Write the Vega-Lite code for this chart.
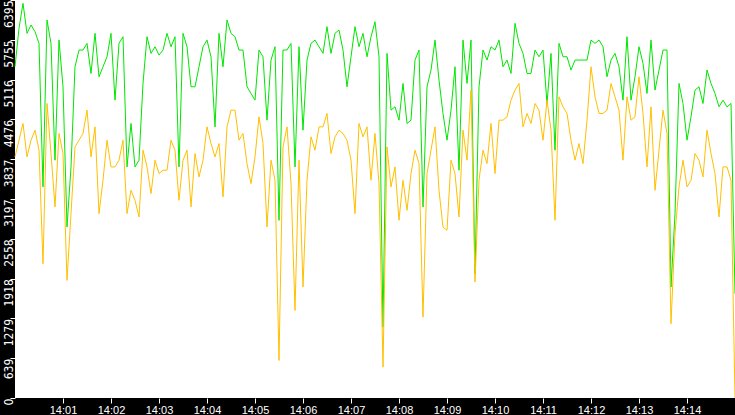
{
  "$schema": "https://vega.github.io/schema/vega-lite/v6.json",
  "width": 720,
  "height": 398,
  "autosize": {"type": "none"},
  "padding": {"left": 15, "top": 0, "right": 0, "bottom": 17},
  "background": "#000000",
  "config": {"view": {"fill": "#ffffff", "stroke": null}},
  "data": {
    "format": {"parse": {"t": "date:'%H:%M:%S'"}},
    "values": [
      {"t":"14:00:00","g":5322,"o":3874},{"t":"14:00:05","g":5939,"o":4142},{"t":"14:00:10","g":6341,"o":4411},{"t":"14:00:15","g":5859,"o":3874},
      {"t":"14:00:20","g":5993,"o":4142},{"t":"14:00:25","g":5886,"o":4303},{"t":"14:00:30","g":5698,"o":3982},{"t":"14:00:35","g":3392,"o":2158},
      {"t":"14:00:40","g":6073,"o":4732},{"t":"14:00:45","g":5698,"o":3928},{"t":"14:00:50","g":3821,"o":3070},{"t":"14:00:55","g":5751,"o":4250},
      {"t":"14:01:00","g":5001,"o":3928},{"t":"14:01:05","g":2748,"o":1890},{"t":"14:01:10","g":3713,"o":2963},{"t":"14:01:15","g":5322,"o":4035},
      {"t":"14:01:20","g":5591,"o":4142},{"t":"14:01:25","g":5591,"o":4250},{"t":"14:01:30","g":5698,"o":4625},{"t":"14:01:35","g":5215,"o":3874},
      {"t":"14:01:40","g":5859,"o":4357},{"t":"14:01:45","g":5162,"o":2963},{"t":"14:01:50","g":5322,"o":3499},{"t":"14:01:55","g":5483,"o":4142},
      {"t":"14:02:00","g":5859,"o":3713},{"t":"14:02:05","g":4786,"o":3713},{"t":"14:02:10","g":5698,"o":3821},{"t":"14:02:15","g":5805,"o":4142},
      {"t":"14:02:20","g":3713,"o":2963},{"t":"14:02:25","g":4411,"o":3338},{"t":"14:02:30","g":3713,"o":3177},{"t":"14:02:35","g":3821,"o":2909},
      {"t":"14:02:40","g":5054,"o":3982},{"t":"14:02:45","g":5805,"o":3713},{"t":"14:02:50","g":5537,"o":3284},{"t":"14:02:55","g":5644,"o":3821},
      {"t":"14:03:00","g":5510,"o":3606},{"t":"14:03:05","g":5591,"o":3660},{"t":"14:03:10","g":5859,"o":3660},{"t":"14:03:15","g":5644,"o":4142},
      {"t":"14:03:20","g":5805,"o":3982},{"t":"14:03:25","g":3713,"o":3177},{"t":"14:03:30","g":5859,"o":3821},{"t":"14:03:35","g":5644,"o":3982},
      {"t":"14:03:40","g":5001,"o":3070},{"t":"14:03:45","g":5001,"o":3928},{"t":"14:03:50","g":5322,"o":3552},{"t":"14:03:55","g":5644,"o":3821},
      {"t":"14:04:00","g":5751,"o":4357},{"t":"14:04:05","g":5483,"o":4089},{"t":"14:04:10","g":4357,"o":3874},{"t":"14:04:15","g":5859,"o":4089},
      {"t":"14:04:20","g":5322,"o":3231},{"t":"14:04:25","g":6073,"o":4357},{"t":"14:04:30","g":5859,"o":4625},{"t":"14:04:35","g":5805,"o":4625},
      {"t":"14:04:40","g":5591,"o":4142},{"t":"14:04:45","g":5591,"o":4250},{"t":"14:04:50","g":5001,"o":3767},{"t":"14:04:55","g":4893,"o":3445},
      {"t":"14:05:00","g":4786,"o":3874},{"t":"14:05:05","g":5591,"o":4518},{"t":"14:05:10","g":5483,"o":4089},{"t":"14:05:15","g":4464,"o":2748},
      {"t":"14:05:20","g":5430,"o":3821},{"t":"14:05:25","g":5644,"o":3499},{"t":"14:05:30","g":2855,"o":603},{"t":"14:05:35","g":5591,"o":4035},
      {"t":"14:05:40","g":5591,"o":4357},{"t":"14:05:45","g":5698,"o":3445},{"t":"14:05:50","g":3713,"o":1407},{"t":"14:05:55","g":5644,"o":3821},
      {"t":"14:06:00","g":4303,"o":1783},{"t":"14:06:05","g":5430,"o":3499},{"t":"14:06:10","g":5698,"o":4196},{"t":"14:06:15","g":5751,"o":3982},
      {"t":"14:06:20","g":5644,"o":4357},{"t":"14:06:25","g":5537,"o":4357},{"t":"14:06:30","g":5966,"o":4572},{"t":"14:06:35","g":5537,"o":3928},
      {"t":"14:06:40","g":5859,"o":4196},{"t":"14:06:45","g":5912,"o":4303},{"t":"14:06:50","g":5591,"o":4250},{"t":"14:06:55","g":5001,"o":4142},
      {"t":"14:07:00","g":5483,"o":3821},{"t":"14:07:05","g":5966,"o":2963},{"t":"14:07:10","g":5644,"o":4411},{"t":"14:07:15","g":5859,"o":4196},
      {"t":"14:07:20","g":5483,"o":4357},{"t":"14:07:25","g":5805,"o":3499},{"t":"14:07:30","g":6046,"o":4250},{"t":"14:07:35","g":5483,"o":3445},
      {"t":"14:07:40","g":1139,"o":496},{"t":"14:07:45","g":5537,"o":4035},{"t":"14:07:50","g":4625,"o":3392},{"t":"14:07:55","g":4679,"o":3713},
      {"t":"14:08:00","g":4464,"o":2855},{"t":"14:08:05","g":5054,"o":3499},{"t":"14:08:10","g":4411,"o":3016},{"t":"14:08:15","g":4464,"o":3606},
      {"t":"14:08:20","g":5430,"o":3982},{"t":"14:08:25","g":5591,"o":3767},{"t":"14:08:30","g":3070,"o":1300},{"t":"14:08:35","g":5001,"o":3606},
      {"t":"14:08:40","g":5269,"o":3982},{"t":"14:08:45","g":5751,"o":4357},{"t":"14:08:50","g":5108,"o":3338},{"t":"14:08:55","g":4572,"o":2748},
      {"t":"14:09:00","g":4142,"o":2695},{"t":"14:09:05","g":4625,"o":3821},{"t":"14:09:10","g":5322,"o":3606},{"t":"14:09:15","g":3660,"o":2909},
      {"t":"14:09:20","g":5751,"o":4303},{"t":"14:09:25","g":5054,"o":3821},{"t":"14:09:30","g":5751,"o":4947},{"t":"14:09:35","g":1997,"o":1863},
      {"t":"14:09:40","g":5001,"o":3499},{"t":"14:09:45","g":5591,"o":3982},{"t":"14:09:50","g":5430,"o":3767},{"t":"14:09:55","g":5644,"o":4411},
      {"t":"14:10:00","g":5591,"o":3606},{"t":"14:10:05","g":5751,"o":4464},{"t":"14:10:10","g":5322,"o":4464},{"t":"14:10:15","g":5430,"o":4518},
      {"t":"14:10:20","g":5215,"o":4786},{"t":"14:10:25","g":6020,"o":4947},{"t":"14:10:30","g":5698,"o":5054},{"t":"14:10:35","g":5537,"o":4357},
      {"t":"14:10:40","g":5215,"o":4572},{"t":"14:10:45","g":5215,"o":4411},{"t":"14:10:50","g":5591,"o":4732},{"t":"14:10:55","g":5483,"o":4625},
      {"t":"14:11:00","g":5591,"o":4142},{"t":"14:11:05","g":4732,"o":4786},{"t":"14:11:10","g":5537,"o":4303},{"t":"14:11:15","g":3982,"o":2855},
      {"t":"14:11:20","g":5698,"o":4840},{"t":"14:11:25","g":5483,"o":4679},{"t":"14:11:30","g":5483,"o":4572},{"t":"14:11:35","g":5269,"o":4142},
      {"t":"14:11:40","g":5430,"o":3821},{"t":"14:11:45","g":5430,"o":4089},{"t":"14:11:50","g":5430,"o":3767},{"t":"14:11:55","g":5430,"o":4464},
      {"t":"14:12:00","g":5751,"o":5322},{"t":"14:12:05","g":5698,"o":4840},{"t":"14:12:10","g":5751,"o":4572},{"t":"14:12:15","g":5644,"o":4572},
      {"t":"14:12:20","g":5162,"o":4625},{"t":"14:12:25","g":5430,"o":5054},{"t":"14:12:30","g":5537,"o":4840},{"t":"14:12:35","g":5322,"o":4625},
      {"t":"14:12:40","g":4786,"o":3821},{"t":"14:12:45","g":5805,"o":4840},{"t":"14:12:50","g":4786,"o":4464},{"t":"14:12:55","g":5162,"o":4518},
      {"t":"14:13:00","g":5644,"o":5162},{"t":"14:13:05","g":5376,"o":4572},{"t":"14:13:10","g":4893,"o":3713},{"t":"14:13:15","g":5751,"o":4679},
      {"t":"14:13:20","g":4947,"o":3338},{"t":"14:13:25","g":5269,"o":3982},{"t":"14:13:30","g":5591,"o":4625},{"t":"14:13:35","g":5591,"o":4250},
      {"t":"14:13:40","g":1783,"o":1193},{"t":"14:13:45","g":2963,"o":2641},{"t":"14:13:50","g":5054,"o":3392},{"t":"14:13:55","g":4732,"o":3821},
      {"t":"14:14:00","g":4142,"o":3392},{"t":"14:14:05","g":4518,"o":3499},{"t":"14:14:10","g":4947,"o":3928},{"t":"14:14:15","g":5001,"o":3821},
      {"t":"14:14:20","g":4732,"o":3552},{"t":"14:14:25","g":5269,"o":4303},{"t":"14:14:30","g":5054,"o":3928},{"t":"14:14:35","g":4893,"o":3606},
      {"t":"14:14:40","g":4679,"o":2909},{"t":"14:14:45","g":4786,"o":3713},{"t":"14:14:50","g":4679,"o":3713},{"t":"14:14:55","g":4732,"o":3499},
      {"t":"14:15:00","g":1676,"o":0}
    ]
  },
  "encoding": {
    "x": {
      "field": "t",
      "type": "temporal",
      "title": null,
      "scale": {
        "domain": [
          {"year": 1900, "month": 1, "date": 1, "hours": 14, "minutes": 0},
          {"year": 1900, "month": 1, "date": 1, "hours": 14, "minutes": 15}
        ],
        "nice": false
      },
      "axis": {
        "values": [
          {"year": 1900, "month": 1, "date": 1, "hours": 14, "minutes": 1},
          {"year": 1900, "month": 1, "date": 1, "hours": 14, "minutes": 2},
          {"year": 1900, "month": 1, "date": 1, "hours": 14, "minutes": 3},
          {"year": 1900, "month": 1, "date": 1, "hours": 14, "minutes": 4},
          {"year": 1900, "month": 1, "date": 1, "hours": 14, "minutes": 5},
          {"year": 1900, "month": 1, "date": 1, "hours": 14, "minutes": 6},
          {"year": 1900, "month": 1, "date": 1, "hours": 14, "minutes": 7},
          {"year": 1900, "month": 1, "date": 1, "hours": 14, "minutes": 8},
          {"year": 1900, "month": 1, "date": 1, "hours": 14, "minutes": 9},
          {"year": 1900, "month": 1, "date": 1, "hours": 14, "minutes": 10},
          {"year": 1900, "month": 1, "date": 1, "hours": 14, "minutes": 11},
          {"year": 1900, "month": 1, "date": 1, "hours": 14, "minutes": 12},
          {"year": 1900, "month": 1, "date": 1, "hours": 14, "minutes": 13},
          {"year": 1900, "month": 1, "date": 1, "hours": 14, "minutes": 14}
        ],
        "format": "%H:%M",
        "domain": false,
        "grid": false,
        "tickColor": "#ffffff",
        "tickSize": 5,
        "labelColor": "#ffffff",
        "labelFont": "Liberation Sans",
        "labelFontSize": 11,
        "labelPadding": 1,
        "labelFlush": false,
        "labelOverlap": false
      }
    },
    "y": {
      "type": "quantitative",
      "title": null,
      "scale": {"domain": [0, 6395], "nice": false},
      "axis": {
        "values": [0, 639.5, 1279, 1918.5, 2558, 3197.5, 3837, 4476.5, 5116, 5755.5, 6395],
        "labelExpr": "'' + floor(datum.value)",
        "domain": false,
        "grid": false,
        "tickColor": "#ffffff",
        "tickSize": 5,
        "labelColor": "#ffffff",
        "labelAngle": -90,
        "labelAlign": "right",
        "labelBaseline": "alphabetic",
        "labelPadding": -2,
        "labelFont": "Liberation Sans Narrow, DejaVu Sans Condensed, sans-serif",
        "labelFontSize": 12,
        "labelOverlap": false,
        "labelFlush": false,
        "labelBound": false
      }
    }
  },
  "layer": [
    {
      "mark": {"type": "line", "color": "#00e600", "strokeWidth": 1},
      "encoding": {"y": {"field": "g"}}
    },
    {
      "mark": {"type": "line", "color": "#ffc000", "strokeWidth": 1},
      "encoding": {"y": {"field": "o"}}
    }
  ]
}
